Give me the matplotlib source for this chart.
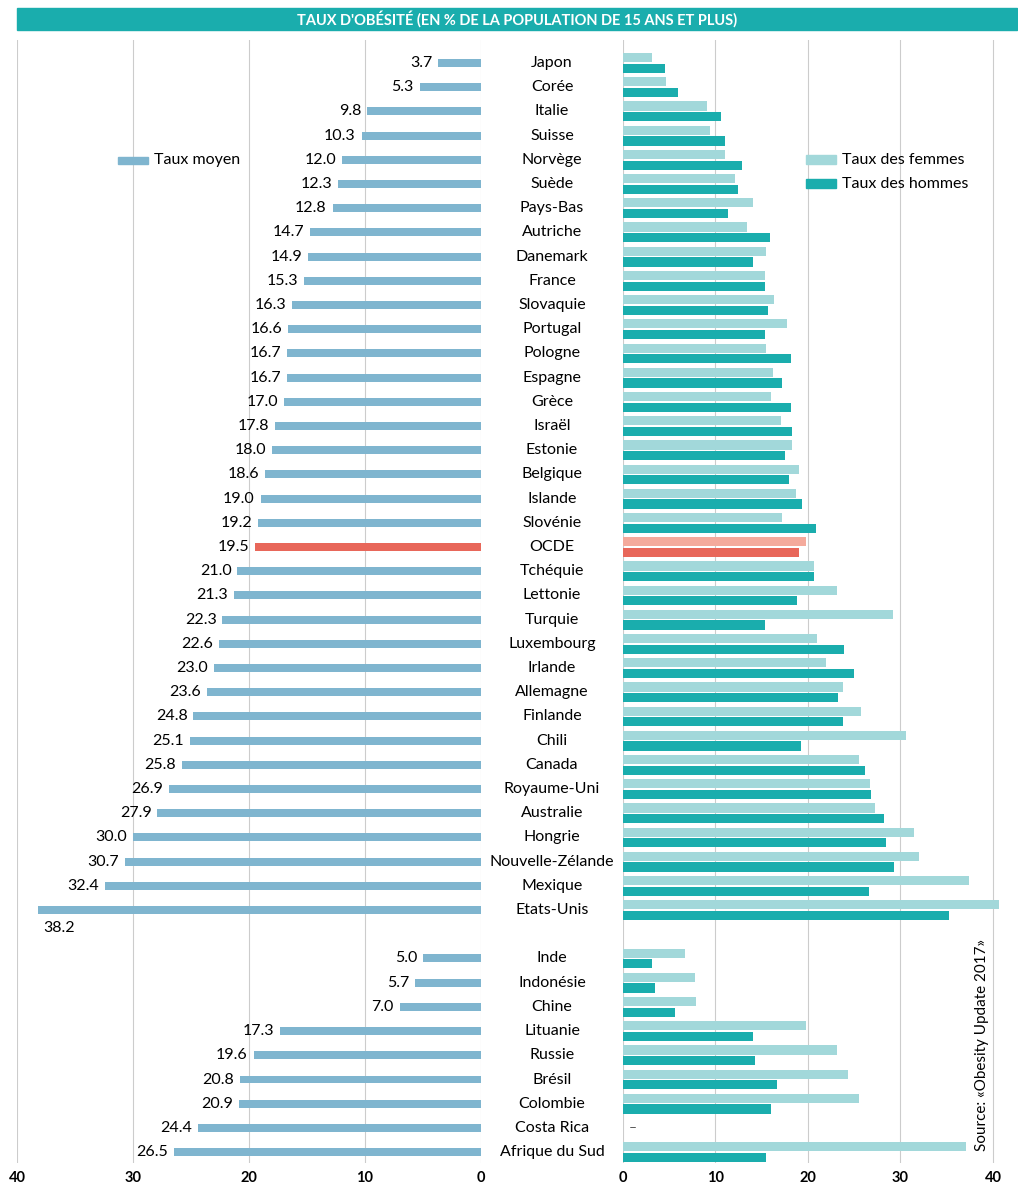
import numpy as np
import matplotlib.pyplot as plt

plt.rcParams['font.family'] = ['Lato', 'DejaVu Sans']

countries = ['Japon', 'Corée', 'Italie', 'Suisse', 'Norvège', 'Suède', 'Pays-Bas', 'Autriche',
             'Danemark', 'France', 'Slovaquie', 'Portugal', 'Pologne', 'Espagne', 'Grèce', 'Israël',
             'Estonie', 'Belgique', 'Islande', 'Slovénie', 'OCDE', 'Tchéquie', 'Lettonie', 'Turquie',
             'Luxembourg', 'Irlande', 'Allemagne', 'Finlande', 'Chili', 'Canada', 'Royaume-Uni',
             'Australie', 'Hongrie', 'Nouvelle-Zélande', 'Mexique', 'Etats-Unis',
             'Inde', 'Indonésie', 'Chine', 'Lituanie', 'Russie', 'Brésil', 'Colombie', 'Costa Rica',
             'Afrique du Sud']
avg = [3.7, 5.3, 9.8, 10.3, 12.0, 12.3, 12.8, 14.7, 14.9, 15.3, 16.3, 16.6, 16.7, 16.7, 17.0, 17.8,
       18.0, 18.6, 19.0, 19.2, 19.5, 21.0, 21.3, 22.3, 22.6, 23.0, 23.6, 24.8, 25.1, 25.8, 26.9,
       27.9, 30.0, 30.7, 32.4, 38.2,
       5.0, 5.7, 7.0, 17.3, 19.6, 20.8, 20.9, 24.4, 26.5]
women = [3.1, 4.7, 9.1, 9.4, 11.0, 12.1, 14.1, 13.4, 15.5, 15.3, 16.3, 17.7, 15.5, 16.2, 16.0, 17.1,
         18.3, 19.0, 18.7, 17.2, 19.8, 20.7, 23.1, 29.2, 21.0, 22.0, 23.8, 25.7, 30.6, 25.5, 26.7,
         27.2, 31.5, 32.0, 37.4, 40.7,
         6.7, 7.8, 7.9, 19.8, 23.1, 24.3, 25.5, np.nan, 37.1]
men = [4.5, 6.0, 10.6, 11.0, 12.9, 12.4, 11.3, 15.9, 14.1, 15.3, 15.7, 15.3, 18.2, 17.2, 18.2, 18.3,
       17.5, 18.0, 19.3, 20.9, 19.0, 20.7, 18.8, 15.3, 23.9, 25.0, 23.3, 23.8, 19.2, 26.2, 26.8,
       28.2, 28.4, 29.3, 26.6, 35.3,
       3.1, 3.5, 5.6, 14.1, 14.3, 16.6, 16.0, np.nan, 15.5]

W, H = 1018, 1200
fig = plt.figure(figsize=(W / 100, H / 100), dpi=100)

ypos = np.array(list(range(36)) + list(range(37, 46)))
ytop, ybot = -0.95, 45.45
ax_top, ax_bot = 40, 1163


def fx(px):
    return px / W


def fy(py):
    return 1 - py / H


axL = fig.add_axes([fx(17), fy(ax_bot), fx(481 - 17), fy(ax_top) - fy(ax_bot)])
axR = fig.add_axes([fx(623), fy(ax_bot), fx(1017 - 623), fy(ax_top) - fy(ax_bot)])

c_avg, c_w, c_m = '#7fb5cf', '#a2d8da', '#1aadad'
c_red, c_red_w = '#e8675a', '#f4aa9c'
is_oecd = np.array([c == 'OCDE' for c in countries])

axL.barh(ypos, avg, height=0.33, color=np.where(is_oecd, c_red, c_avg))
axL.set_xlim(40, 0)
for y, v, c in zip(ypos, avg, countries):
    if c == 'Etats-Unis':
        axL.text(35, y + 0.75, f'{v:.1f}', ha='right', va='center', fontsize=11.5)
    else:
        axL.text(v + 0.5, y, f'{v:.1f}', ha='right', va='center', fontsize=11.5)

axR.barh(ypos - 0.22, women, height=0.38, color=np.where(is_oecd, c_red_w, c_w))
axR.barh(ypos + 0.22, men, height=0.38, color=np.where(is_oecd, c_red, c_m))
axR.set_xlim(0, 42.6)
axR.text(0.6, ypos[countries.index('Costa Rica')], '–', ha='left', va='center',
         fontsize=10, color='#555555')

for ax in (axL, axR):
    ax.set_ylim(ybot, ytop)
    ax.set_xticks([0, 10, 20, 30, 40])
    ax.tick_params(axis='x', length=0, labelsize=10.5, pad=6)
    for lab in ax.get_xticklabels():
        lab.set_fontweight('bold')
    ax.set_yticks([])
    ax.grid(axis='x', color='#cccccc', lw=0.8)
    ax.set_axisbelow(True)
    for s in ax.spines.values():
        s.set_visible(False)

# country labels in the middle
for y, c in zip(ypos, countries):
    py = ax_top + (y - ytop) / (ybot - ytop) * (ax_bot - ax_top)
    fig.text(fx(552), fy(py), c, ha='center', va='center', fontsize=11.5)

# title banner
fig.patches.append(plt.Rectangle((fx(17), fy(30)), fx(1000), fy(8) - fy(30),
                                 transform=fig.transFigure, color='#1aadad'))
fig.text(fx(517), fy(19), "TAUX D'OBÉSITÉ (EN % DE LA POPULATION DE 15 ANS ET PLUS)",
         ha='center', va='center', color='white', fontsize=10.5, fontweight='bold')

# legends
fig.patches.append(plt.Rectangle((fx(118), fy(164)), fx(30), fy(157) - fy(164),
                                 transform=fig.transFigure, color=c_avg))
fig.text(fx(154), fy(160), 'Taux moyen', va='center', fontsize=11.5)
fig.patches.append(plt.Rectangle((fx(806), fy(164)), fx(30), fy(155) - fy(164),
                                 transform=fig.transFigure, color=c_w))
fig.text(fx(842), fy(160), 'Taux des femmes', va='center', fontsize=11.5)
fig.patches.append(plt.Rectangle((fx(806), fy(188)), fx(30), fy(179) - fy(188),
                                 transform=fig.transFigure, color=c_m))
fig.text(fx(842), fy(184), 'Taux des hommes', va='center', fontsize=11.5)

fig.text(fx(982), fy(1045), 'Source: «Obesity Update 2017»', rotation=90,
         ha='center', va='center', fontsize=11)

fig.savefig('out.png', dpi=100)
